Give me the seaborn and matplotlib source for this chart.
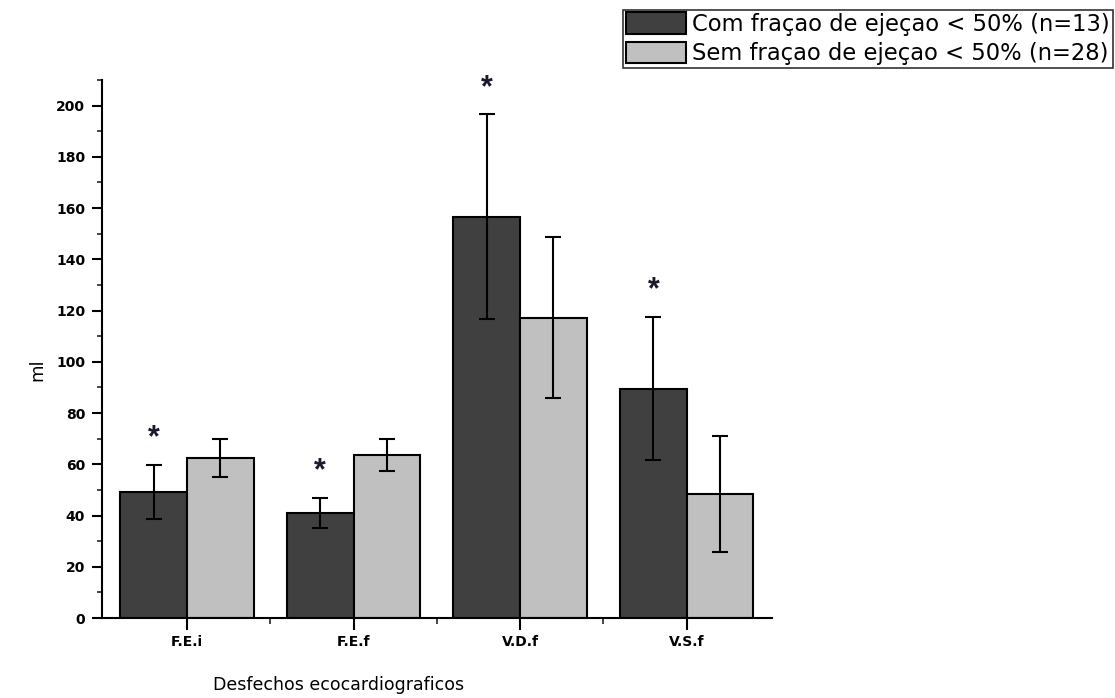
import matplotlib
matplotlib.use("Agg")
import matplotlib.pyplot as plt
import seaborn as sns
import pandas as pd
import numpy as np
from matplotlib.ticker import MultipleLocator, FixedLocator
from matplotlib.patches import Patch

categories = ["F.E.i", "F.E.f", "V.D.f", "V.S.f"]
groups = ["Com fraçao de ejeçao < 50% (n=13)", "Sem fraçao de ejeçao < 50% (n=28)"]
com_values = [49.2, 41.0, 156.6, 89.5]
com_err = [10.5, 5.8, 40.0, 28.0]
sem_values = [62.5, 63.7, 117.2, 48.4]
sem_err = [7.4, 6.3, 31.5, 22.5]
significant = [True, True, True, True]

df = pd.DataFrame({
    "cat": categories * 2,
    "grupo": [groups[0]] * 4 + [groups[1]] * 4,
    "val": com_values + sem_values,
    "err": com_err + sem_err,
})

sns.set_theme(style="white")
plt.rcParams["font.family"] = ["DejaVu Sans"]
plt.rcParams["text.color"] = "black"
plt.rcParams["axes.labelcolor"] = "black"

fig = plt.figure(figsize=(11.15, 6.98), dpi=100)
ax = fig.add_axes([0.0915, 0.1146, 0.6005, 0.7708])

sns.barplot(data=df, x="cat", y="val", hue="grupo", order=categories,
            hue_order=groups, palette=["#404040", "#c0c0c0"], width=0.8,
            edgecolor="black", linewidth=1.5, errorbar=None, ax=ax, legend=False)

bars = [p for p in ax.patches]
errs = com_err + sem_err
vals = com_values + sem_values
for p, v, e in zip(bars, vals, errs):
    xc = p.get_x() + p.get_width() / 2
    ax.errorbar(xc, v, yerr=e, fmt="none", ecolor="black", elinewidth=1.5,
                capsize=5.5, capthick=1.5, zorder=5)

for i, (v, e, s) in enumerate(zip(com_values, com_err, significant)):
    if s:
        p = bars[i]
        xc = p.get_x() + p.get_width() / 2
        ax.text(xc, v + e + 4.5, "*", ha="center", va="bottom", fontsize=22,
                color="#1a1a2a", family="Liberation Sans", fontweight="bold")

ax.set_xlim(-0.51, 3.51)
ax.set_ylim(0, 210)
ax.yaxis.set_major_locator(MultipleLocator(20))
ax.yaxis.set_minor_locator(MultipleLocator(10))
ax.xaxis.set_minor_locator(FixedLocator([0.5, 1.5, 2.5]))

for s in ["top", "right"]:
    ax.spines[s].set_visible(False)
for s in ["left", "bottom"]:
    ax.spines[s].set_color("black")
    ax.spines[s].set_linewidth(1.5)

ax.tick_params(axis="y", which="major", direction="out", length=7.2, width=1.5,
               left=True, labelsize=10, colors="black", pad=5)
ax.tick_params(axis="y", which="minor", direction="out", length=3.6, width=1.2, left=True)
ax.tick_params(axis="x", which="major", direction="out", length=8.5, width=1.5,
               bottom=True, labelsize=10, colors="black", pad=4)
ax.tick_params(axis="x", which="minor", direction="out", length=4.3, width=1.2, bottom=True)

for lab in ax.get_yticklabels() + ax.get_xticklabels():
    lab.set_fontweight("bold")

ax.set_ylabel("ml", fontsize=13)
ax.yaxis.set_label_coords(-0.083, 0.461)
ax.set_xlabel("Desfechos ecocardiograficos", fontsize=12.5)
ax.xaxis.set_label_coords(0.354, -0.107)

handles = [Patch(facecolor="#404040", edgecolor="black", linewidth=1.5),
           Patch(facecolor="#c0c0c0", edgecolor="black", linewidth=1.5)]
leg = fig.legend(handles, groups, loc="upper right",
                 bbox_to_anchor=(0.998, 0.986), frameon=True, fancybox=False,
                 edgecolor="black", fontsize=16.3, borderpad=0.12,
                 handlelength=2.65, handleheight=1.08, handletextpad=0.3,
                 labelspacing=0.25, borderaxespad=0)
leg.get_frame().set_linewidth(1.2)
for t in leg.get_texts():
    t.set_color("black")

fig.savefig("out.png", dpi=100)
